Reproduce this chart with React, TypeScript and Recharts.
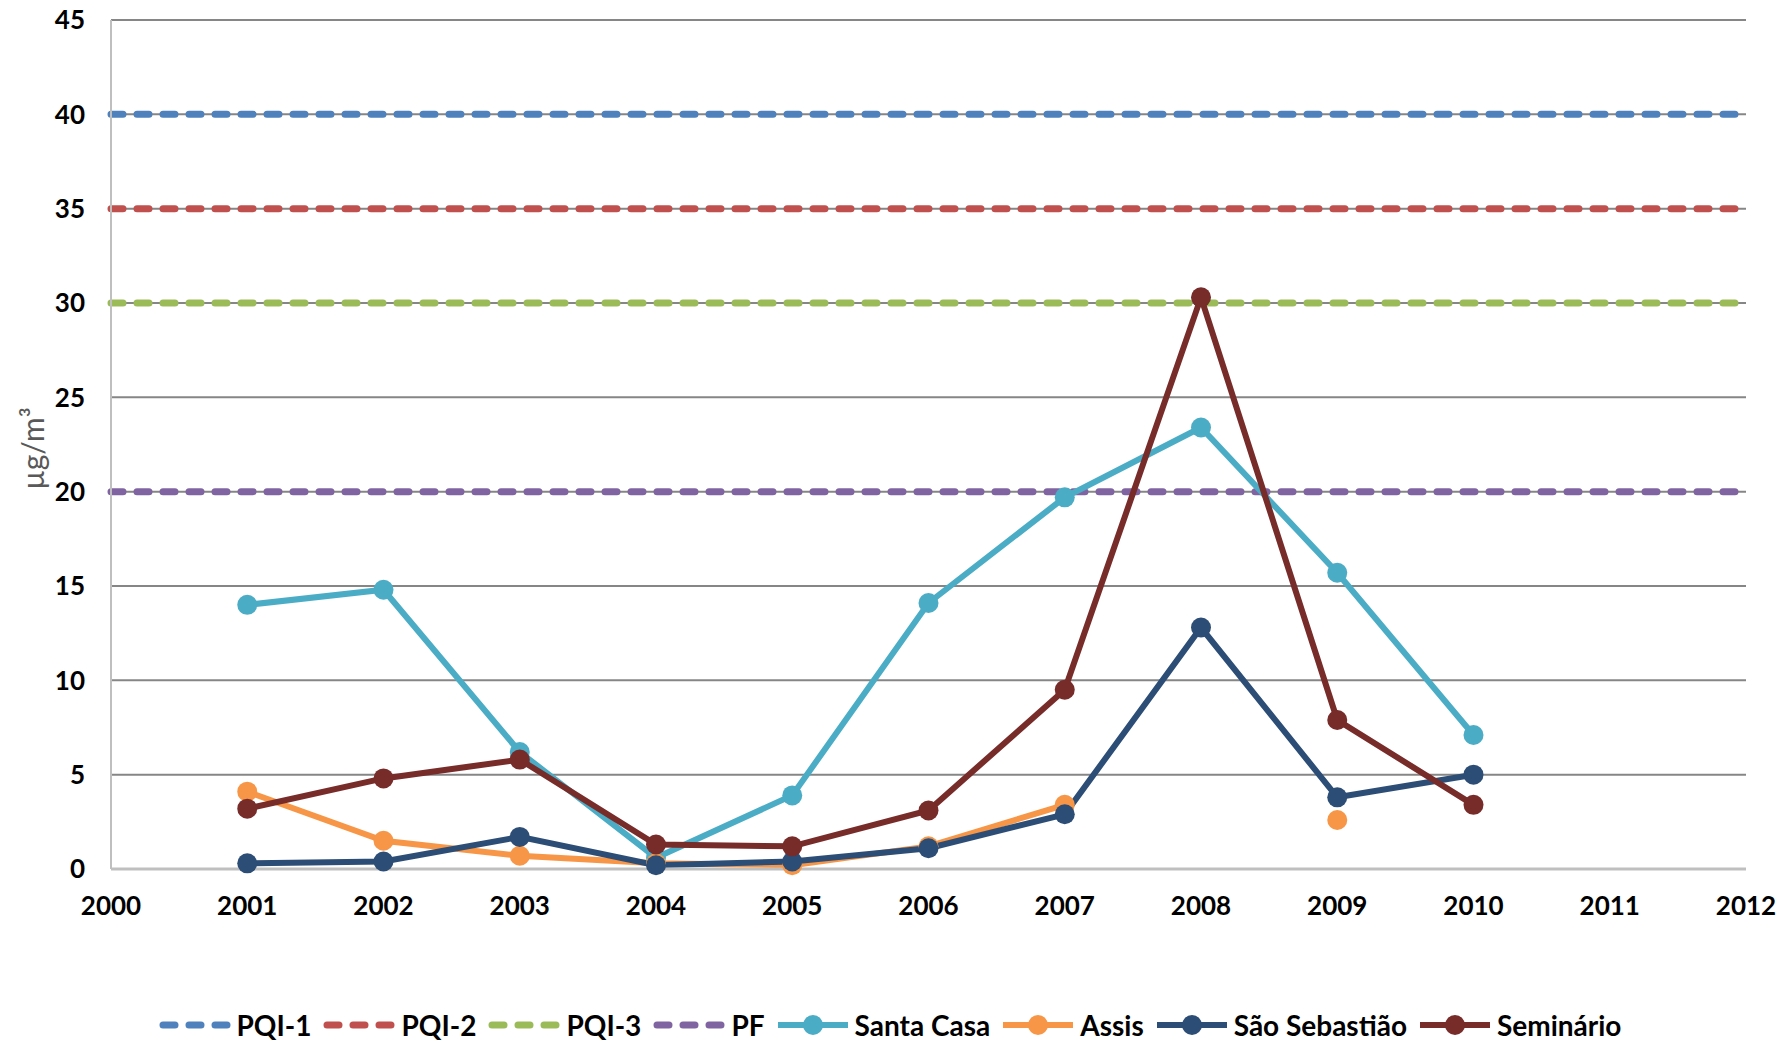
import React from 'react';
import { LineChart, Line, XAxis, YAxis, CartesianGrid, Legend } from 'recharts';

const years = [2000, 2001, 2002, 2003, 2004, 2005, 2006, 2007, 2008, 2009, 2010, 2011, 2012];
const yTicks = [0, 5, 10, 15, 20, 25, 30, 35, 40, 45];

const pqi1 = 40;
const pqi2 = 35;
const pqi3 = 30;
const pf = 20;

const santaCasa = [null, 14.0, 14.8, 6.2, 0.6, 3.9, 14.1, 19.7, 23.4, 15.7, 7.1, null, null];
const assis = [null, 4.1, 1.5, 0.7, 0.3, 0.2, 1.2, 3.4, null, 2.6, null, null, null];
const saoSebastiao = [null, 0.3, 0.4, 1.7, 0.2, 0.4, 1.1, 2.9, 12.8, 3.8, 5.0, null, null];
const seminario = [null, 3.2, 4.8, 5.8, 1.3, 1.2, 3.1, 9.5, 30.3, 7.9, 3.4, null, null];

const data = years.map((year, i) => ({
  year,
  pqi1,
  pqi2,
  pqi3,
  pf,
  santaCasa: santaCasa[i],
  assis: assis[i],
  saoSebastiao: saoSebastiao[i],
  seminario: seminario[i],
}));

const FONT = 'Lato, "Open Sans", sans-serif';

const dashedSeries = [
  { key: 'pqi1', name: 'PQI-1', color: '#4F81BD' },
  { key: 'pqi2', name: 'PQI-2', color: '#C0504D' },
  { key: 'pqi3', name: 'PQI-3', color: '#9BBB59' },
  { key: 'pf', name: 'PF', color: '#8064A2' },
];
const solidSeries = [
  { key: 'santaCasa', name: 'Santa Casa', color: '#4BACC6' },
  { key: 'assis', name: 'Assis', color: '#F79646' },
  { key: 'saoSebastiao', name: 'São Sebastião', color: '#2C4D75' },
  { key: 'seminario', name: 'Seminário', color: '#772C2A' },
];

const LegendContent = () => {
  const items = [
    ...dashedSeries.map((s) => ({ ...s, dashed: true })),
    ...solidSeries.map((s) => ({ ...s, dashed: false })),
  ];
  return (
    <div
      style={{
        display: 'flex',
        justifyContent: 'center',
        alignItems: 'center',
        paddingTop: 79,
        height: 34,
        lineHeight: '34px',
        fontFamily: FONT,
        fontWeight: 700,
        fontSize: 28,
        color: '#000',
        marginLeft: 46,
      }}
    >
      {items.map((it) => (
        <div key={it.key} style={{ display: 'flex', alignItems: 'center', marginRight: 12 }}>
          <svg width={72} height={24} style={{ marginRight: 6 }}>
            {it.dashed ? (
              <line
                x1={4}
                y1={12}
                x2={70}
                y2={12}
                stroke={it.color}
                strokeWidth={7}
                strokeLinecap="round"
                strokeDasharray="12 14"
              />
            ) : (
              <>
                <line x1={1} y1={12} x2={71} y2={12} stroke={it.color} strokeWidth={6} />
                <circle cx={36} cy={12} r={10} fill={it.color} />
              </>
            )}
          </svg>
          <span>{it.name}</span>
        </div>
      ))}
    </div>
  );
};

const YLabel = (props: any) => {
  const vb = props.viewBox || { x: 0, y: 0, width: 0, height: 0 };
  const cx = vb.x + 32;
  const cy = vb.y + vb.height / 2 + 4;
  return (
    <text
      x={cx}
      y={cy}
      transform={`rotate(-90, ${cx}, ${cy})`}
      textAnchor="middle"
      dominantBaseline="central"
      fill="#595959"
      fontFamily={FONT}
      fontSize={30}
    >
      µg/m³
    </text>
  );
};

export default function App() {
  return (
    <div style={{ position: 'absolute', left: 0, top: 0, background: '#fff' }}>
      <LineChart
        width={1781}
        height={1042}
        data={data}
        margin={{ top: 20, right: 35, left: 0, bottom: 0 }}
      >
        <CartesianGrid vertical={false} stroke="#868686" strokeWidth={2} />
        <XAxis
          dataKey="year"
          type="number"
          domain={[2000, 2012]}
          ticks={years}
          allowDecimals={false}
          interval={0}
          tickLine={false}
          tickSize={0}
          tickMargin={28}
          height={60}
          axisLine={{ stroke: '#BFBFBF', strokeWidth: 3 }}
          tick={{ fill: '#000', fontFamily: FONT, fontWeight: 700, fontSize: 26 }}
        />
        <YAxis
          type="number"
          domain={[0, 45]}
          ticks={yTicks}
          interval={0}
          width={111}
          tickLine={false}
          tickSize={0}
          tickMargin={26}
          axisLine={{ stroke: '#BFBFBF', strokeWidth: 2 }}
          tick={{ fill: '#000', fontFamily: FONT, fontWeight: 700, fontSize: 26 }}
          label={<YLabel />}
        />
        <Legend verticalAlign="bottom" height={113} content={<LegendContent />} />
        {dashedSeries.map((s) => (
          <Line
            key={s.key}
            dataKey={s.key}
            name={s.name}
            stroke={s.color}
            strokeWidth={7}
            strokeLinecap="round"
            strokeDasharray="12 14"
            dot={false}
            activeDot={false}
            isAnimationActive={false}
          />
        ))}
        {solidSeries.map((s) => (
          <Line
            key={s.key}
            dataKey={s.key}
            name={s.name}
            stroke={s.color}
            strokeWidth={6}
            dot={{ r: 10, fill: s.color, stroke: 'none' }}
            activeDot={false}
            connectNulls={false}
            isAnimationActive={false}
          />
        ))}
      </LineChart>
    </div>
  );
}
